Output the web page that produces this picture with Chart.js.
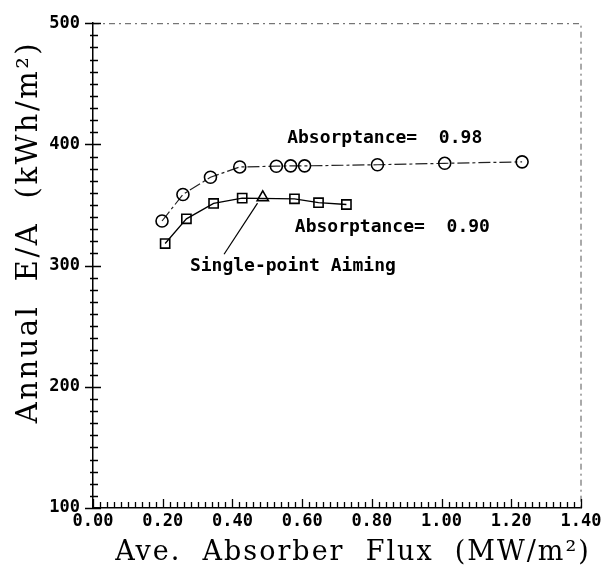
<!DOCTYPE html>
<html>
<head>
<meta charset="utf-8">
<script src="https://cdn.jsdelivr.net/npm/chart.js@4"></script>
<style>
    html, body { margin: 0; padding: 0; background: #fff; }
    #contenedor { width: 608px; height: 566px; }
</style>
</head>
<body>
<div id="contenedor"><canvas id="graficaFlujo"></canvas></div>
<script>
// datos
const flujo098 = [0.198, 0.258, 0.337, 0.421, 0.526, 0.567, 0.607, 0.816, 1.009, 1.231];
const energia098 = [336.8, 358.7, 372.9, 381.4, 382.0, 382.3, 382.3, 383.2, 384.4, 385.6];
const flujo090 = [0.207, 0.268, 0.346, 0.428, 0.578, 0.647, 0.727];
const energia090 = [318.2, 338.6, 351.3, 355.7, 355.1, 351.9, 350.4];
const flujoUnPunto = [0.487];
const energiaUnPunto = [356.3];

const limitesX = [0, 1.4];
const limitesY = [100, 500];
const pasoX = 0.2;
const pasoY = 100;
const pasoMenorX = 0.02;
const pasoMenorY = 10;

const etiquetas = ["Absorptance=  0.98", "Absorptance=  0.90", "Single-point Aiming"];
const tituloX = "Ave.  Absorber  Flux  (MW/m²)";
const tituloY = "Annual  E/A  (kWh/m²)";

document.addEventListener("DOMContentLoaded", iniciarGrafica);

function puntos(xs, ys) {
    return xs.map((x, i) => ({ x: x, y: ys[i] }));
}

function iniciarGrafica() {
    const canvas = document.getElementById("graficaFlujo");
    if (!canvas) return;
    const ctx = canvas.getContext("2d");

    const fuenteTicks = { family: "'DejaVu Sans Mono', monospace", size: 17, weight: "bold" };

    const dibujoExtra = {
        id: "dibujoExtra",
        afterDraw(chart) {
            const c = chart.ctx;
            const area = chart.chartArea;
            const sx = chart.scales.x;
            const sy = chart.scales.y;
            c.save();

            // borde superior y derecho punteado
            c.strokeStyle = "#555";
            c.lineWidth = 1;
            c.setLineDash([6, 4, 2, 4]);
            c.beginPath();
            c.moveTo(area.left, area.top + 0.5);
            c.lineTo(area.right, area.top + 0.5);
            c.lineTo(area.right, area.bottom);
            c.stroke();
            c.setLineDash([]);

            // marcas del eje x
            c.strokeStyle = "#000";
            c.lineWidth = 1.3;
            c.beginPath();
            const nx = Math.round((limitesX[1] - limitesX[0]) / pasoMenorX);
            for (let i = 0; i <= nx; i++) {
                const v = limitesX[0] + i * pasoMenorX;
                const px = Math.round(sx.getPixelForValue(v)) + 0.5;
                const mayor = i % Math.round(pasoX / pasoMenorX) === 0;
                c.moveTo(px, area.bottom);
                c.lineTo(px, area.bottom - (mayor ? 9 : 6));
            }
            // marcas del eje y
            const ny = Math.round((limitesY[1] - limitesY[0]) / pasoMenorY);
            for (let i = 0; i <= ny; i++) {
                const v = limitesY[0] + i * pasoMenorY;
                const py = Math.round(sy.getPixelForValue(v)) + 0.5;
                const mayor = i % Math.round(pasoY / pasoMenorY) === 0;
                c.moveTo(area.left - (mayor ? 8 : 3), py);
                c.lineTo(area.left + (mayor ? 8 : 5), py);
            }
            c.stroke();

            // flecha de "Single-point Aiming"
            c.lineWidth = 1.2;
            c.beginPath();
            c.moveTo(sx.getPixelForValue(0.472), sy.getPixelForValue(351.6));
            c.lineTo(sx.getPixelForValue(0.376), sy.getPixelForValue(309.4));
            c.stroke();

            // textos
            c.fillStyle = "#000";
            c.font = "bold 18px 'DejaVu Sans Mono', monospace";
            c.textBaseline = "middle";
            c.textAlign = "left";
            c.fillText(etiquetas[0], sx.getPixelForValue(0.557), sy.getPixelForValue(405));
            c.fillText(etiquetas[1], sx.getPixelForValue(0.579), sy.getPixelForValue(331.5));
            c.fillText(etiquetas[2], sx.getPixelForValue(0.278), sy.getPixelForValue(299));

            // titulos de ejes
            c.font = "27px 'DejaVu Serif', serif";
            c.textAlign = "center";
            c.letterSpacing = "2px";
            c.fillText(tituloX, 353, 553);
            c.font = "29px 'DejaVu Serif', serif";
            c.letterSpacing = "2.5px";
            c.translate(29, 232);
            c.rotate(-Math.PI / 2);
            c.fillText(tituloY, 0, 0);
            c.restore();
        }
    };

    new Chart(ctx, {
        type: "line",
        data: {
            datasets: [{
                label: "Absorptance 0.98",
                data: puntos(flujo098, energia098),
                borderColor: "#222",
                borderWidth: 1.2,
                borderDash: [12, 3, 3, 3],
                pointStyle: "circle",
                pointRadius: 6,
                pointBorderWidth: 1.6,
                pointBorderColor: "#000",
                pointBackgroundColor: "rgba(0,0,0,0)"
            }, {
                label: "Absorptance 0.90",
                data: puntos(flujo090, energia090),
                borderColor: "#000",
                borderWidth: 1.3,
                pointStyle: "rect",
                pointRadius: 6.5,
                pointBorderWidth: 1.6,
                pointBorderColor: "#000",
                pointBackgroundColor: "rgba(0,0,0,0)"
            }, {
                label: "Single-point Aiming",
                data: puntos(flujoUnPunto, energiaUnPunto),
                showLine: false,
                pointStyle: "triangle",
                pointRadius: 6.5,
                pointBorderWidth: 1.6,
                pointBorderColor: "#000",
                pointBackgroundColor: "rgba(0,0,0,0)"
            }]
        },
        options: {
            responsive: true,
            maintainAspectRatio: false,
            animation: false,
            layout: { padding: { top: 20, right: 27, left: 0, bottom: 0 } },
            plugins: {
                legend: { display: false },
                tooltip: { enabled: false }
            },
            scales: {
                x: {
                    type: "linear",
                    min: limitesX[0],
                    max: limitesX[1],
                    afterFit: (escala) => { escala.height = 58; },
                    ticks: {
                        stepSize: pasoX,
                        padding: 3,
                        color: "#000",
                        font: fuenteTicks,
                        maxRotation: 0,
                        callback: (v) => Number(v).toFixed(2)
                    },
                    grid: { display: false, drawTicks: false },
                    border: { display: true, color: "#000", width: 1.5 }
                },
                y: {
                    min: limitesY[0],
                    max: limitesY[1],
                    afterFit: (escala) => { escala.width = 93; },
                    ticks: {
                        stepSize: pasoY,
                        padding: 13,
                        color: "#000",
                        font: fuenteTicks
                    },
                    grid: { display: false, drawTicks: false },
                    border: { display: true, color: "#000", width: 1.5 }
                }
            }
        },
        plugins: [dibujoExtra]
    });
}
</script>
</body>
</html>
